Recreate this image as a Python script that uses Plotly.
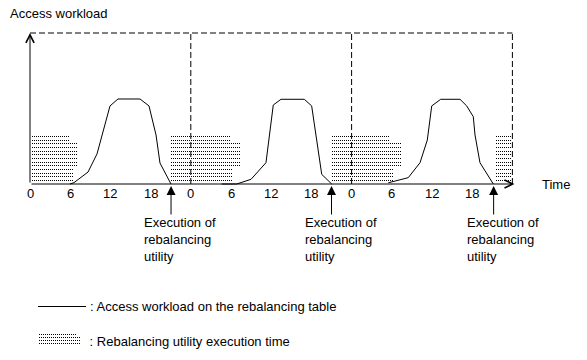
import plotly.graph_objects as go

# ---------------- data ----------------
day1_hours = [5.97, 6.57, 8.66, 10.0, 11.94, 13.13, 16.42, 17.76, 18.81, 19.4, 21.04]
day1_load = [0, 0.9, 7.9, 19.9, 51.7, 56.3, 56.3, 51.7, 32.5, 13.9, 0]
day2_hours = [28.6, 29.85, 30.85, 32.99, 35.22, 36.31, 37.46, 40.94, 42.04, 43.54, 45.03]
day2_load = [0, 0, 0, 3.1, 14.1, 52.3, 56.1, 56.1, 51.7, 6.4, 0]
day3_hours = [53.48, 56.46, 58.21, 59.3, 59.96, 61.3, 64.18, 65.18, 66.16, 66.42, 67.16, 69.15]
day3_load = [0.8, 4.2, 14.1, 29.1, 51.7, 56.1, 56.1, 51.7, 44.6, 32.5, 14.1, 0]

tick_hours = [0, 6, 12, 18, 24, 30, 36, 42, 48, 54, 60, 66]
tick_labels = ["0", "6", "12", "18", "0", "6", "12", "18", "0", "6", "12", "18"]
day_bounds = [24, 48, 72]
workload_max = 100

exec_times = [21.05, 45.0, 69.2]
exec_start = [0.25, 21.1, 45.0, 69.55]
exec_end = [6.0, 29.85, 53.7, 72.0]
exec_peak_end = [7.2, 31.5, 55.4, 72.0]

# ---------------- layout constants ----------------
W, H = 587, 360
X0_PX, PX_PER_H = 30, 6.7
Y0_PX, PX_PER_U = 184, 1.51
FONT = "Arial, Liberation Sans, sans-serif"
HATCH_TOP_PX, HATCH_STEP_PX, HATCH_ROWS = 136.5, 3.67, 13

x_range = [-X0_PX / PX_PER_H, (W - X0_PX) / PX_PER_H]
y_range = [(Y0_PX - H) / PX_PER_U, Y0_PX / PX_PER_U]


def h_from_px(p):
    return (p - X0_PX) / PX_PER_H


def v_from_px(p):
    return (Y0_PX - p) / PX_PER_U


def snap_h(h):
    return h_from_px(round(X0_PX + h * PX_PER_H))


fig = go.Figure()

# hatched execution windows (rows of dots, pixel aligned)
hx, hy = [], []
for s, e, pe in zip(exec_start, exec_end, exec_peak_end):
    for k in range(HATCH_ROWS):
        yv = v_from_px(int(HATCH_TOP_PX + round(k * HATCH_STEP_PX)) + 0.5)
        if k < 2:
            end = e
        elif k < 9:
            end = pe
        else:
            end = min(e + 0.5, pe)
        hx += [snap_h(s), snap_h(end), None]
        hy += [yv, yv, None]
fig.add_trace(go.Scatter(x=hx, y=hy, mode="lines",
                         line=dict(color="black", width=1, dash="1px,1px"),
                         hoverinfo="skip"))

# workload curves
for xs, ys in [(day1_hours, day1_load), (day2_hours, day2_load), (day3_hours, day3_load)]:
    fig.add_trace(go.Scatter(x=xs, y=ys, mode="lines",
                             line=dict(color="black", width=1), hoverinfo="skip"))

shapes = []
# dashed day frame
shapes.append(dict(type="line", xref="x", yref="y", x0=0, x1=day_bounds[-1],
                   y0=workload_max, y1=workload_max,
                   line=dict(color="black", width=1, dash="6px,3px")))
for b in day_bounds:
    shapes.append(dict(type="line", xref="x", yref="y", x0=b, x1=b, y0=0, y1=workload_max,
                       line=dict(color="black", width=1, dash="6px,3px")))


# legend samples (paper coordinates)
def px_x(p):
    return p / W


def px_y(p):
    return 1 - p / H


shapes.append(dict(type="line", xref="paper", yref="paper", x0=px_x(38), x1=px_x(86),
                   y0=px_y(306.5), y1=px_y(306.5), line=dict(color="black", width=1)))
for i, yy in enumerate([334.5, 337.5, 340.5, 343.5]):
    shapes.append(dict(type="line", xref="paper", yref="paper", x0=px_x(39),
                       x1=px_x(77 if i < 1 else 81),
                       y0=px_y(yy), y1=px_y(yy),
                       line=dict(color="black", width=1, dash="1px,1px")))

annotations = []
# axes with open arrowheads
annotations.append(dict(x=0, y=workload_max, ax=0, ay=0, xref="x", yref="y",
                        axref="x", ayref="y", text="", showarrow=True,
                        arrowhead=5, arrowsize=1.6, arrowwidth=1, arrowcolor="black"))
annotations.append(dict(x=72.3, y=0, ax=0, ay=0, xref="x", yref="y",
                        axref="x", ayref="y", text="", showarrow=True,
                        arrowhead=5, arrowsize=1.6, arrowwidth=1, arrowcolor="black"))

# tick labels
for tv, tl in zip(tick_hours, tick_labels):
    annotations.append(dict(x=tv, y=0, xref="x", yref="y", text=tl, showarrow=False,
                            xanchor="center", yanchor="middle", yshift=-9,
                            font=dict(family=FONT, size=13, color="black")))

# execution arrows
for t in exec_times:
    annotations.append(dict(x=t, y=-2 / PX_PER_U, xref="x", yref="y", ax=0, ay=30,
                            text="", showarrow=True, arrowhead=2, arrowsize=1.8,
                            arrowwidth=1, arrowcolor="black"))
    annotations.append(dict(x=t, y=0, xref="x", yref="y", xshift=-28, yshift=-30,
                            text="Execution of<br>rebalancing<br>utility", showarrow=False,
                            xanchor="left", yanchor="top", align="left", borderpad=0,
                            font=dict(family=FONT, size=13, color="black")))

# axis titles
annotations.append(dict(x=0, y=workload_max, xref="x", yref="y", xshift=-22, yshift=20,
                        text="Access workload", showarrow=False, xanchor="left",
                        yanchor="middle", font=dict(family=FONT, size=13, color="black")))
annotations.append(dict(x=72, y=0, xref="x", yref="y", xshift=28,
                        text="Time", showarrow=False, xanchor="left",
                        yanchor="middle", font=dict(family=FONT, size=13, color="black")))

# legend texts
annotations.append(dict(x=px_x(88), y=px_y(306), xref="paper", yref="paper",
                        text=": Access workload on the rebalancing table", showarrow=False,
                        xanchor="left", yanchor="middle",
                        font=dict(family=FONT, size=13, color="black")))
annotations.append(dict(x=px_x(84), y=px_y(341), xref="paper", yref="paper",
                        text=" : Rebalancing utility execution time", showarrow=False,
                        xanchor="left", yanchor="middle",
                        font=dict(family=FONT, size=13, color="black")))

fig.update_layout(
    width=W, height=H,
    margin=dict(l=0, r=0, t=0, b=0),
    paper_bgcolor="white", plot_bgcolor="white",
    showlegend=False,
    hovermode=False,
    xaxis=dict(range=x_range, visible=False, fixedrange=True),
    yaxis=dict(range=y_range, visible=False, fixedrange=True),
    shapes=shapes,
    annotations=annotations,
    font=dict(family=FONT, size=13, color="black"),
)

fig.write_html("out.html", config={"displayModeBar": False, "staticPlot": True},
               post_script="document.body.style.margin='0px';")
